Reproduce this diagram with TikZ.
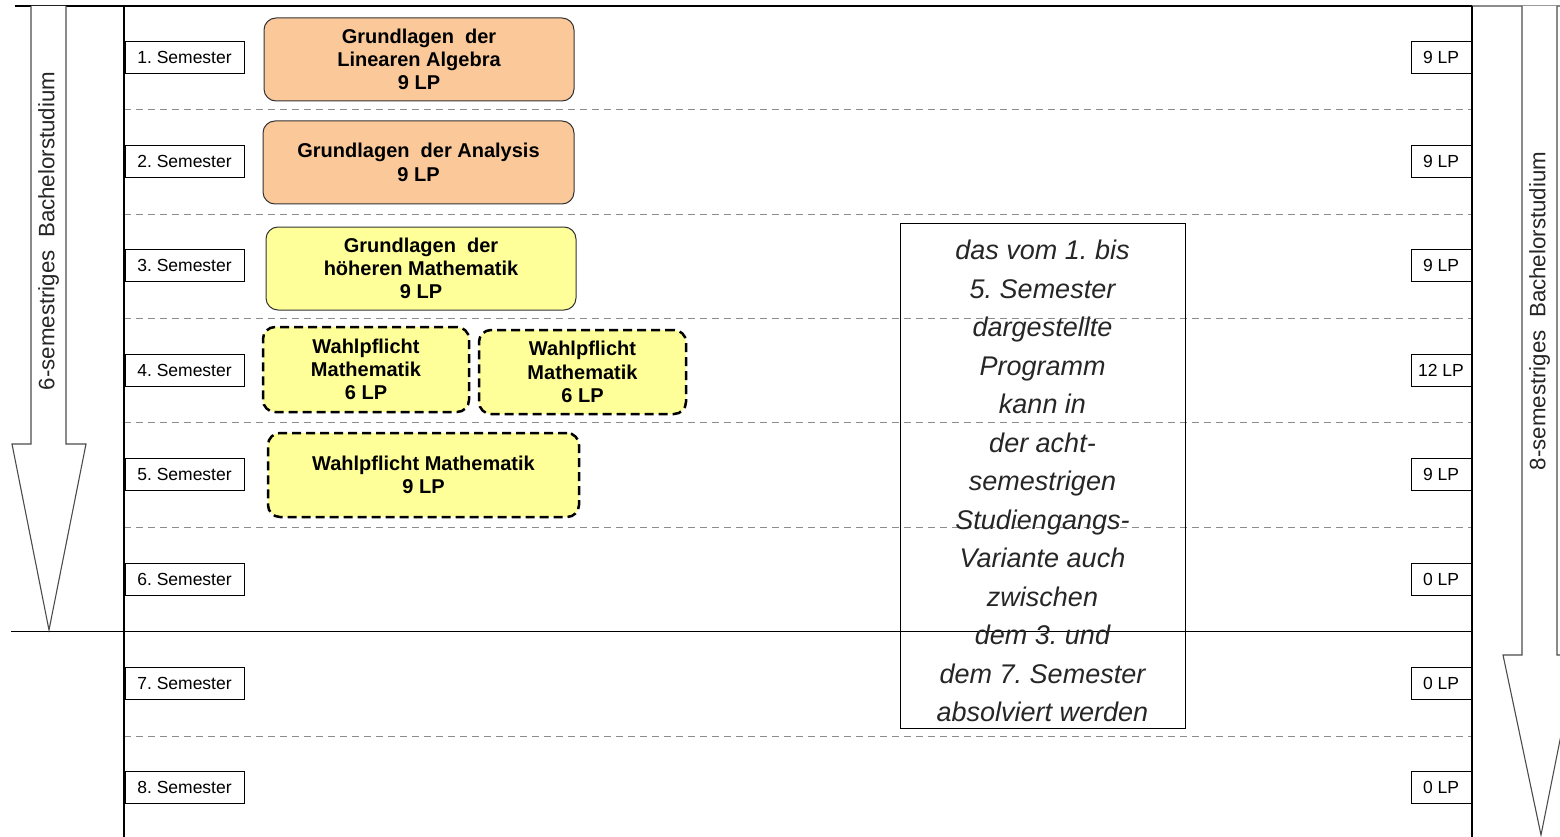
\documentclass[tikz,border=0pt]{standalone}
\usepackage{fontspec}
\setmainfont{Liberation Sans}
\usepackage{tikz}
\definecolor{modorange}{RGB}{251,201,153}
\definecolor{modyellow}{RGB}{255,255,153}
\frenchspacing

\begin{document}
\begin{tikzpicture}[x=1pt,y=-1pt,
  semlabel/.style={draw,line width=0.8pt,inner sep=0pt,minimum width=119pt,minimum height=32pt,font=\fontsize{17.5}{20}\selectfont},
  lplabel/.style={draw,line width=0.8pt,inner sep=0pt,minimum width=60pt,minimum height=32pt,font=\fontsize{17.5}{20}\selectfont},
  module/.style={rounded corners=12pt,align=center,inner sep=0pt,font=\fontsize{20}{23.3}\selectfont\bfseries},
  pflicht/.style={module,draw=black!80,line width=1pt},
  wahl/.style={module,draw=black,line width=2.5pt,dash pattern=on 9pt off 5pt},
  sepline/.style={draw=black!45,line width=0.9pt,dash pattern=on 7pt off 5pt},
  bigarrow/.style={draw=black!70,line width=1.1pt,fill=white},
  rotlabel/.style={rotate=90,font=\fontsize{22.3}{25}\selectfont,text=black!85}]
\clip (0,0) rectangle (1560,837);
\useasboundingbox (0,0) rectangle (1560,837);

% semester rows
\draw[sepline] (124,109.5) -- (1472,109.5);
\draw[sepline] (124,214) -- (1472,214);
\draw[sepline] (124,318) -- (1472,318);
\draw[sepline] (124,422.5) -- (1472,422.5);
\draw[sepline] (124,527) -- (1472,527);
\draw[sepline] (124,736) -- (1472,736);
\draw[line width=1.2pt] (11,631.5) -- (1472,631.5);

% frame
\draw[line width=1.2pt] (15,6) -- (1472,6);
\draw[black!45,line width=1.2pt] (1472,6) -- (1560,6);
\draw[line width=1.5pt] (124,6) -- (124,837);
\draw[line width=1.5pt] (1472,6) -- (1472,837);

% arrows
\draw[bigarrow] (31,6) -- (31,444) -- (12,444) -- (49,630) -- (86,444) -- (66,444) -- (66,6);
\draw[bigarrow] (1522,6) -- (1522,655) -- (1503,655) -- (1541,835) -- (1577,655) -- (1557,655) -- (1557,6);
\node[rotlabel] (bach6) at (48.5,231) {6-semestriges\ \ Bachelorstudium};
\node[rotlabel] (bach8) at (1539.5,311) {8-semestriges\ \ Bachelorstudium};

% semester labels
\node[semlabel] (sem1) at (184.5,57) {1. Semester};
\node[semlabel] (sem2) at (184.5,161.4) {2. Semester};
\node[semlabel] (sem3) at (184.5,265.8) {3. Semester};
\node[semlabel] (sem4) at (184.5,370.2) {4. Semester};
\node[semlabel] (sem5) at (184.5,474.6) {5. Semester};
\node[semlabel] (sem6) at (184.5,579) {6. Semester};
\node[semlabel] (sem7) at (184.5,683.4) {7. Semester};
\node[semlabel] (sem8) at (184.5,787.8) {8. Semester};

% credit points
\node[lplabel] (lp1) at (1441,57) {9 LP};
\node[lplabel] (lp2) at (1441,161.4) {9 LP};
\node[lplabel] (lp3) at (1441,265.8) {9 LP};
\node[lplabel] (lp4) at (1441,370.2) {12 LP};
\node[lplabel] (lp5) at (1441,474.6) {9 LP};
\node[lplabel] (lp6) at (1441,579) {0 LP};
\node[lplabel] (lp7) at (1441,683.4) {0 LP};
\node[lplabel] (lp8) at (1441,787.8) {0 LP};

% modules
\node[pflicht,fill=modorange,minimum width=310pt,minimum height=83pt] (linalg) at (419,59.5)
  {Grundlagen\ \ der\\Linearen Algebra\\9 LP};
\node[pflicht,fill=modorange,minimum width=311pt,minimum height=83pt] (analysis) at (418.5,162.5)
  {Grundlagen\ \ der Analysis\\9 LP};
\node[pflicht,fill=modyellow,minimum width=310pt,minimum height=83pt] (hoemath) at (421,268.5)
  {Grundlagen\ \ der\\höheren Mathematik\\9 LP};
\node[wahl,fill=modyellow,minimum width=206pt,minimum height=85pt] (wahlA) at (366,369.5)
  {Wahlpflicht\\Mathematik\\6 LP};
\node[wahl,fill=modyellow,minimum width=207pt,minimum height=84pt] (wahlB) at (582.5,372)
  {Wahlpflicht\\Mathematik\\6 LP};
\node[wahl,fill=modyellow,minimum width=311pt,minimum height=84pt] (wahlC) at (423.5,475)
  {Wahlpflicht Mathematik\\9 LP};

% note
\node[draw,line width=1pt,minimum width=285pt,minimum height=505pt,inner sep=0pt] (hinweis) at (1042.5,475.5) {};
\node[align=center,inner sep=0pt,text=black!85,font=\fontsize{27}{38.5}\selectfont\itshape] (hinweistext) at (1042.5,481)
  {das vom 1. bis\\5. Semester\\dargestellte\\Programm\\kann in\\der acht-\\semestrigen\\Studiengangs-\\Variante auch\\zwischen\\dem 3. und\\dem 7. Semester\\absolviert werden};
\end{tikzpicture}
\end{document}
